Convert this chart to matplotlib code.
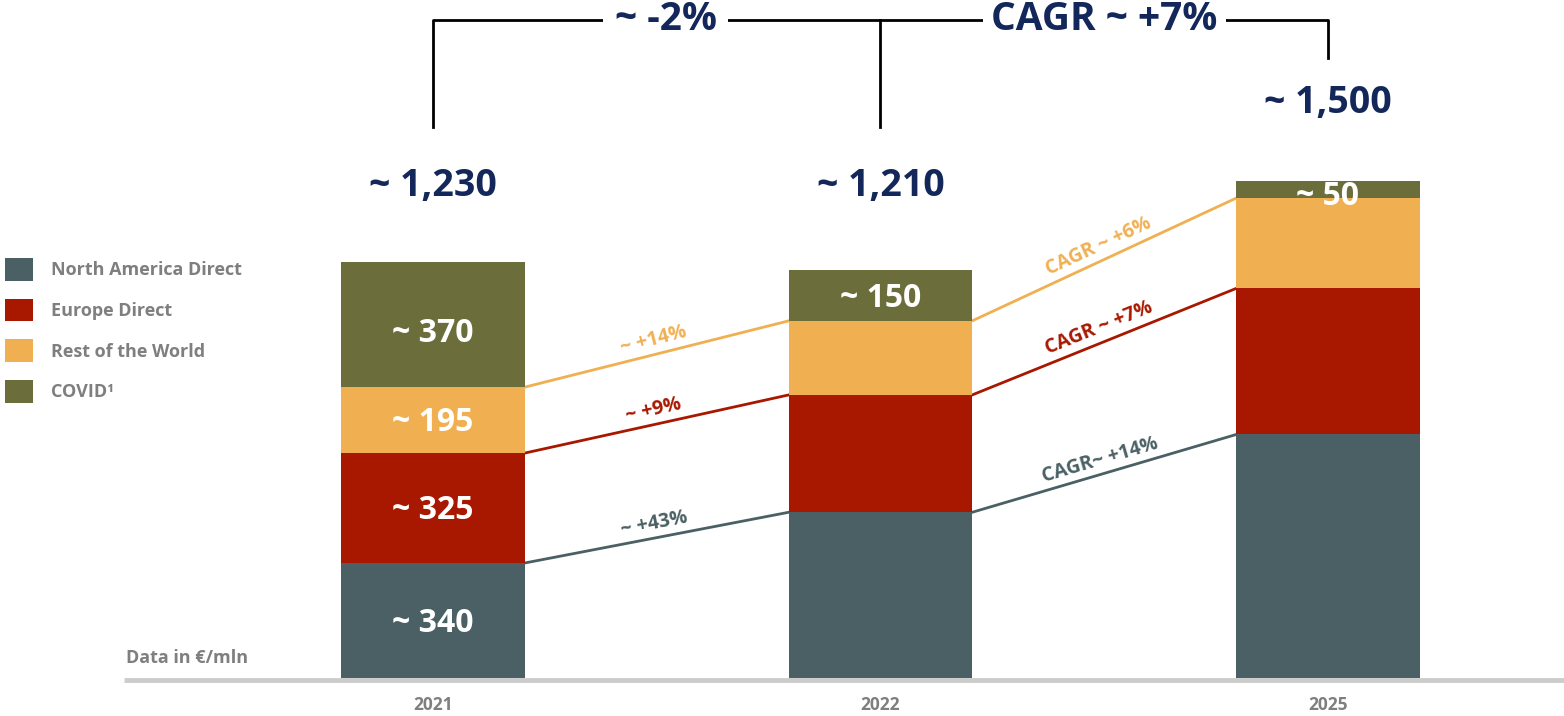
import numpy as np
import matplotlib.pyplot as plt
from matplotlib.patches import Patch

plt.rcParams['font.family'] = ['Open Sans', 'DejaVu Sans']
plt.rcParams['font.weight'] = 'bold'

# revenue by region, €/mln
years = ['2021', '2022', '2025']
north_america = [340, 490, 720]
europe = [325, 347, 432]
rest_world = [195, 219, 267]
covid = [370, 150, 50]
totals = ['~ 1,230', '~ 1,210', '~ 1,500']

series_names = ['North America Direct', 'Europe Direct', 'Rest of the World', 'COVID\u00b9']
colors = ['#4a6064', '#a81800', '#f0b052', '#6b6e3a']
growth = [['~ +43%', 'CAGR~ +14%'], ['~ +9%', 'CAGR ~ +7%'], ['~ +14%', 'CAGR ~ +6%']]

navy = '#14275a'
grey = '#7f7f7f'

fig = plt.figure(figsize=(15.64, 7.16), dpi=100)
ax = fig.add_axes([0, 0, 1, 1])
ax.set_xlim(-0.9676, 2.5274)
ax.set_ylim(-112.4, 2004.7)
ax.axis('off')

x = np.arange(len(years))
width = 0.41
stack = [north_america, europe, rest_world, covid]
bottoms = np.zeros(len(years))
tops = []
for vals, c in zip(stack, colors):
    ax.bar(x, vals, width, bottom=bottoms, color=c, zorder=3)
    bottoms = bottoms + np.array(vals)
    tops.append(bottoms.copy())

# baseline
ax.plot([-0.69, 2.53], [-6, -6], color='#cccccc', lw=3.5, solid_capstyle='butt', zorder=2)
for xi, y in zip(x, years):
    ax.text(xi, -80, y, ha='center', va='center', fontsize=12.5, color=grey)
ax.text(-0.685, 58, 'Data in €/mln', ha='left', va='center', fontsize=13, color=grey)

# segment values in 2021
base = 0
shifts = [-8, -8, -8, -25]
for vals, dy in zip(stack, shifts):
    ax.text(0, base + vals[0] / 2 + dy, f'~ {vals[0]}', ha='center', va='center',
            fontsize=23, color='white', zorder=4)
    base += vals[0]
ax.text(1, tops[2][1] + covid[1] / 2 - 10, f'~ {covid[1]}', ha='center', va='center',
        fontsize=23, color='white', zorder=4)
ax.text(2, tops[2][2] + covid[2] / 2 - 20, f'~ {covid[2]}', ha='center', va='center',
        fontsize=23, color='white', zorder=4)

# connectors between bars with growth labels
for k in range(3):
    for i in range(2):
        x0, x1 = x[i] + width / 2, x[i + 1] - width / 2
        y0, y1 = tops[k][i], tops[k][i + 1]
        ax.plot([x0, x1], [y0, y1], color=colors[k], lw=2, zorder=2)
        p0 = ax.transData.transform((x0, y0))
        p1 = ax.transData.transform((x1, y1))
        ang = np.degrees(np.arctan2(p1[1] - p0[1], p1[0] - p0[0]))
        nx, ny = -np.sin(np.radians(ang)), np.cos(np.radians(ang))
        ax.annotate(growth[k][i], ((x0 + x1) / 2, (y0 + y1) / 2),
                    xytext=(nx * 3, ny * 3), textcoords='offset points',
                    rotation=ang, rotation_mode='anchor', ha='center', va='bottom',
                    fontsize=14, color=colors[k])

# totals
ax.text(0, 1456, totals[0], ha='center', va='center', fontsize=27, color=navy)
ax.text(1, 1456, totals[1], ha='center', va='center', fontsize=27, color=navy)
ax.text(2, 1700, totals[2], ha='center', va='center', fontsize=27, color=navy)

# growth bracket across the top
ax.plot([0, 0, 2, 2], [1629, 1946, 1946, 1833], color='black', lw=2, zorder=1)
ax.plot([1, 1], [1629, 1946], color='black', lw=2, zorder=1)
ax.text(0.52, 1946, '~ -2%', ha='center', va='center', fontsize=28, color=navy,
        bbox=dict(facecolor='white', edgecolor='none', pad=8))
ax.text(1.5, 1946, 'CAGR ~ +7%', ha='center', va='center', fontsize=28, color=navy,
        bbox=dict(facecolor='white', edgecolor='none', pad=6))

handles = [Patch(facecolor=c, edgecolor='none') for c in colors]
leg = ax.legend(handles, series_names, loc='upper left', bbox_to_anchor=(0.0032, 0.6397),
                frameon=False, handlelength=1.55, handleheight=1.55, handletextpad=1.0,
                labelspacing=1.0, prop={'size': 13, 'weight': 'bold'}, labelcolor=grey,
                borderaxespad=0, borderpad=0)

fig.savefig('out.png', dpi=100)
